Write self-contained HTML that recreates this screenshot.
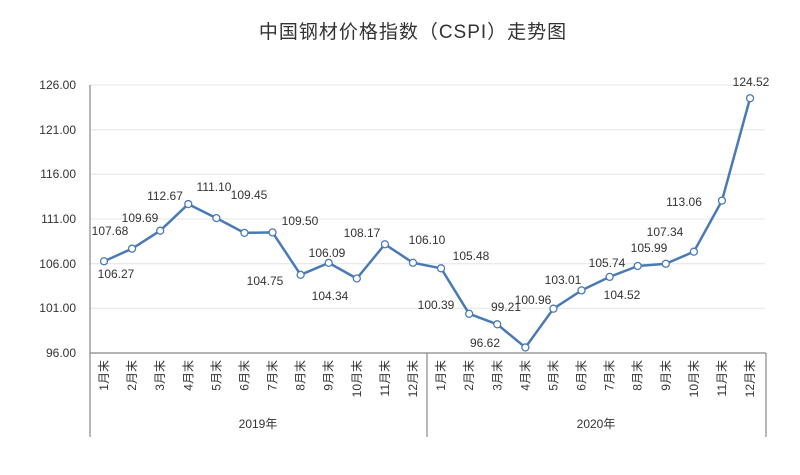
<!DOCTYPE html><html><head><meta charset="utf-8"><style>body{margin:0;background:#fff}svg{display:block}text{font-family:"Liberation Sans","Noto Sans CJK SC",sans-serif;fill:#333}</style></head><body>
<svg width="800" height="475" viewBox="0 0 800 475">
<text x="413" y="38" font-size="19" text-anchor="middle" font-family="'Noto Serif CJK SC',serif" letter-spacing="1">中国钢材价格指数（CSPI）走势图</text>
<g stroke="#e4e4e4" stroke-width="1">
<line x1="90" x2="765" y1="85" y2="85"/><line x1="90" x2="765" y1="129.7" y2="129.7"/><line x1="90" x2="765" y1="174.3" y2="174.3"/><line x1="90" x2="765" y1="219" y2="219"/><line x1="90" x2="765" y1="263.7" y2="263.7"/><line x1="90" x2="765" y1="308.3" y2="308.3"/></g>
<g font-size="12" text-anchor="end"><text x="76" y="89">126.00</text><text x="76" y="134">121.00</text><text x="76" y="178">116.00</text><text x="76" y="223">111.00</text><text x="76" y="268">106.00</text><text x="76" y="312">101.00</text><text x="76" y="357">96.00</text></g>
<g stroke="#888" stroke-width="1.2"><line x1="90" y1="85" x2="90" y2="437"/><line x1="90" y1="353" x2="766" y2="353"/><line x1="427" y1="353" x2="427" y2="437"/><line x1="766" y1="353" x2="766" y2="437"/></g>
<g id="m" font-size="12"></g>
<text x="258" y="428" font-size="12" text-anchor="middle">2019年</text>
<text x="596" y="428" font-size="12" text-anchor="middle">2020年</text>
<polyline id="pl" fill="none" stroke="#4a7ab5" stroke-width="2.5" stroke-linejoin="round"/>
<g id="pts"></g>
<g font-size="12" text-anchor="middle" id="lb">
<text x="116" y="278">106.27</text><text x="110" y="235">107.68</text><text x="140" y="222">109.69</text><text x="165" y="200">112.67</text><text x="214" y="191">111.10</text><text x="249" y="199">109.45</text><text x="300" y="225">109.50</text><text x="265" y="285">104.75</text><text x="327" y="257">106.09</text><text x="330" y="300">104.34</text><text x="362" y="237">108.17</text><text x="427" y="244">106.10</text><text x="471" y="260">105.48</text><text x="436" y="309">100.39</text><text x="506" y="311">99.21</text><text x="485" y="347">96.62</text><text x="533" y="304">100.96</text><text x="563" y="284">103.01</text><text x="607" y="267">105.74</text><text x="622" y="299">104.52</text><text x="649" y="252">105.99</text><text x="665" y="236">107.34</text><text x="684" y="206">113.06</text><text x="751" y="86">124.52</text></g>
</svg>
<script>
var v=[106.27,107.68,109.69,112.67,111.10,109.45,109.50,104.75,106.09,104.34,108.17,106.10,105.48,100.39,99.21,96.62,100.96,103.01,104.52,105.74,105.99,107.34,113.06,124.52];
var ns="http://www.w3.org/2000/svg",p=[],g=document.getElementById('pts'),m=document.getElementById('m');
v.forEach(function(a,i){var x=104+28.09*i,y=353-(a-96)*8.933;p.push(x+','+y);
var c=document.createElementNS(ns,'circle');c.setAttribute('cx',x);c.setAttribute('cy',y);c.setAttribute('r',3.5);c.setAttribute('fill','#fff');c.setAttribute('stroke','#4a7ab5');c.setAttribute('stroke-width','1.3');g.appendChild(c);
var t=document.createElementNS(ns,'text');t.textContent=((i%12)+1)+'月末';t.setAttribute('transform','translate('+(x+4)+',360) rotate(-90)');t.setAttribute('text-anchor','end');m.appendChild(t);});
document.getElementById('pl').setAttribute('points',p.join(' '));
</script>
</body></html>
